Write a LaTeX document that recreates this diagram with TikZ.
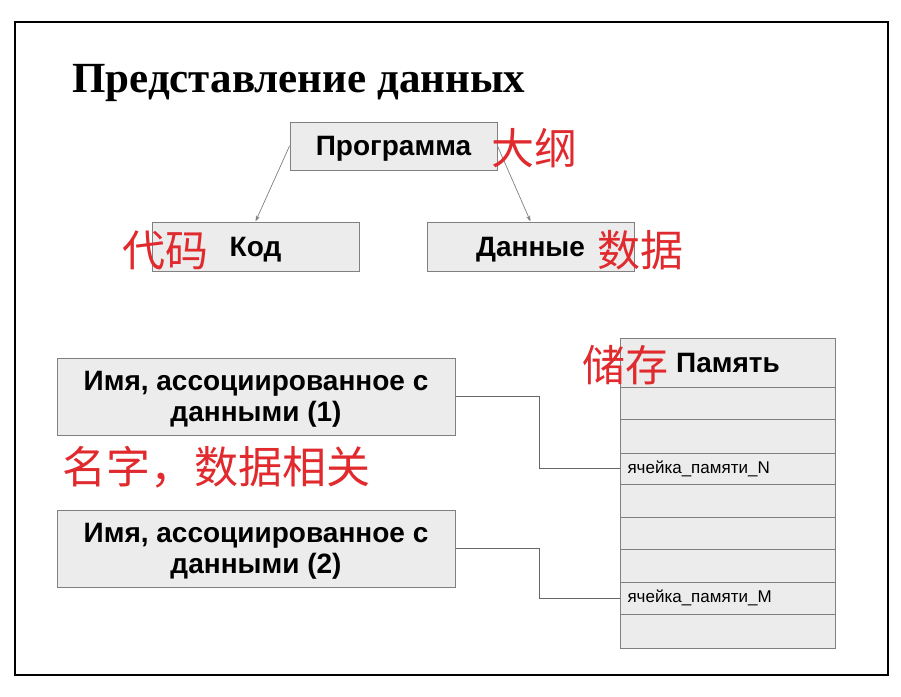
\documentclass[tikz,border=0pt]{standalone}
\usepackage{fontspec}
\setmainfont{Liberation Serif}
\setsansfont{Liberation Sans}
\newfontfamily\cjk{Noto Sans CJK SC}
\usetikzlibrary{arrows.meta}
\definecolor{boxfill}{HTML}{ECECEC}
\definecolor{boxline}{HTML}{808080}
\definecolor{cnred}{HTML}{E02A2E}
\tikzset{
  box/.style={draw=boxline, fill=boxfill, line width=1pt, inner sep=0pt, text depth=0pt, font=\sffamily\bfseries\fontsize{28}{31}\selectfont, align=center},
  cell/.style={draw=boxline, fill=boxfill, line width=1pt, minimum width=215pt, inner ysep=0pt, inner xsep=7pt, text width=201pt, align=left, font=\sffamily\fontsize{17}{19}\selectfont},
  cn/.style={text=cnred, font=\cjk\fontsize{43}{46}\selectfont, inner sep=0pt},
  arr/.style={draw=gray, line width=0.7pt, -{Stealth[length=6pt,width=4pt]}},
  conn/.style={draw=gray!80!black, line width=0.8pt},
}
\begin{document}
\begin{tikzpicture}[x=1pt,y=-1pt]
\useasboundingbox (0,0) rectangle (901,696);
\fill[white] (0,0) rectangle (901,696);
\draw[line width=2pt] (15,22) rectangle (888,675);
\node[anchor=base west, inner sep=0pt, font=\bfseries\fontsize{43}{47}\selectfont] (title) at (72,92) {Представление данных};

\node[box, minimum width=207pt, minimum height=48pt] (prog) at (393.5,146) {Программа};
\node[box, minimum width=207pt, minimum height=49pt] (kod) at (255.5,246.5) {Код};
\node[box, minimum width=207pt, minimum height=49pt] (dan) at (530.5,246.5) {Данные};
\draw[arr] (prog.west) -- (kod.north);
\draw[arr] (prog.east) -- (dan.north);

\node[cn] (c1) at (534,148) {大纲};
\node[cn] (c2) at (165,250) {代码};
\node[cn] (c3) at (640,250) {数据};

\node[box, minimum width=398pt, minimum height=77pt] (name1) at (256,396.5) {Имя, ассоциированное с\\данными (1)};
\node[box, minimum width=398pt, minimum height=77pt] (name2) at (256,548.5) {Имя, ассоциированное с\\данными (2)};
\node[cn, font=\cjk\fontsize{44}{47}\selectfont] (c4) at (216,467) {名字，数据相关};

\node[cell, minimum height=49pt, align=center, text depth=0pt, font=\sffamily\bfseries\fontsize{28}{31}\selectfont] (mem0) at (728,362.5) {Память};
\node[cell, minimum height=32pt] (mem1) at (728,403) {};
\node[cell, minimum height=34pt] (mem2) at (728,436) {};
\node[cell, minimum height=31pt] (mem3) at (728,468.5) {ячейка\_памяти\_N};
\node[cell, minimum height=33pt] (mem4) at (728,500.5) {};
\node[cell, minimum height=32pt] (mem5) at (728,533) {};
\node[cell, minimum height=33pt] (mem6) at (728,565.5) {};
\node[cell, minimum height=32pt] (mem7) at (728,598) {ячейка\_памяти\_M};
\node[cell, minimum height=34pt] (mem8) at (728,631) {};
\node[cn] (c5) at (625,365) {储存};

\draw[conn] (name1.east) -- ++(84,0) |- (mem3.west);
\draw[conn] (name2.east) -- ++(84,0) |- (mem7.west);
\end{tikzpicture}
\end{document}
